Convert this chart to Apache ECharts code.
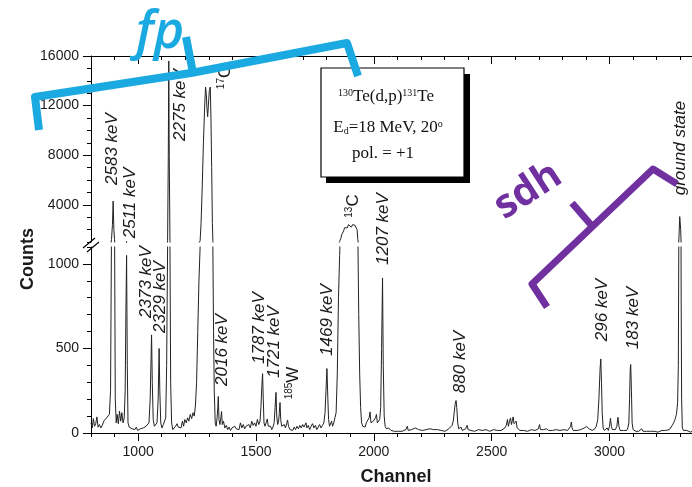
<!DOCTYPE html>
<html><head><meta charset="utf-8">
<script src="https://cdn.jsdelivr.net/npm/echarts@6/dist/echarts.min.js"></script>
<style>html,body{margin:0;padding:0;background:#fff}#c{width:692px;height:487px}</style>
</head><body><div id="c"></div>
<script>
// ---- data ----
const channels = [800,805,810,815,820,825,830,836,842,848,854,860,866,872,878,883,887,891,894,897,900,903,907,911,916,921,926,931,936,941,945,948,951,954,957,962,968,974,980,986,992,998,1004,1010,1016,1022,1028,1034,1040,1046,1051,1055,1057,1060,1064,1069,1074,1080,1085,1089,1092,1096,1101,1107,1112,1117,1121,1125,1128,1130,1132,1135,1138,1142,1147,1153,1159,1165,1170,1176,1182,1188,1193,1198,1204,1210,1215,1221,1227,1233,1238,1243,1248,1253,1258,1263,1267,1272,1277,1282,1286,1289,1292,1295,1298,1302,1306,1309,1312,1315,1317,1320,1323,1327,1331,1335,1338,1340,1343,1347,1351,1354,1357,1362,1368,1374,1380,1386,1392,1398,1404,1410,1416,1422,1428,1434,1440,1446,1452,1458,1464,1470,1476,1482,1488,1494,1500,1506,1512,1517,1521,1525,1528,1531,1534,1538,1543,1548,1552,1557,1562,1567,1572,1577,1581,1585,1588,1592,1596,1599,1602,1605,1609,1614,1620,1625,1630,1634,1638,1644,1650,1656,1662,1668,1674,1680,1686,1692,1698,1704,1709,1712,1716,1722,1728,1734,1740,1746,1752,1758,1764,1770,1776,1782,1788,1793,1797,1801,1805,1808,1812,1817,1821,1825,1830,1835,1840,1845,1850,1855,1860,1864,1868,1872,1876,1880,1884,1888,1892,1896,1900,1905,1910,1915,1920,1925,1929,1932,1936,1940,1944,1948,1953,1958,1963,1968,1972,1976,1980,1984,1988,1993,1998,2003,2007,2011,2015,2020,2025,2029,2033,2037,2040,2044,2048,2053,2058,2063,2068,2073,2080,2088,2096,2104,2112,2120,2128,2136,2142,2146,2152,2160,2168,2176,2182,2190,2198,2206,2214,2222,2230,2238,2246,2254,2262,2270,2278,2286,2294,2302,2310,2318,2326,2332,2337,2341,2345,2349,2352,2356,2360,2365,2370,2375,2382,2390,2396,2400,2406,2412,2420,2428,2436,2444,2452,2460,2468,2476,2484,2492,2500,2508,2516,2524,2532,2540,2548,2556,2562,2567,2571,2576,2580,2584,2588,2591,2595,2600,2604,2608,2614,2620,2628,2636,2644,2652,2660,2668,2676,2684,2692,2698,2703,2707,2714,2720,2726,2732,2737,2742,2750,2758,2766,2774,2782,2790,2798,2806,2814,2822,2830,2835,2838,2841,2846,2854,2862,2870,2878,2886,2893,2898,2903,2908,2913,2919,2926,2932,2938,2944,2950,2955,2960,2963,2966,2969,2973,2978,2984,2990,2995,3000,3004,3008,3012,3018,3025,3031,3036,3040,3045,3052,3060,3067,3073,3078,3082,3085,3088,3090,3093,3096,3100,3106,3112,3118,3124,3130,3136,3142,3150,3158,3166,3174,3182,3190,3198,3206,3214,3222,3230,3238,3246,3254,3260,3266,3272,3278,3284,3289,3292,3295,3298,3300,3302,3304,3306,3309,3314,3320,3328,3336,3344,3350];
const counts = [60,30,85,40,55,95,35,50,30,45,70,60,90,80,110,250,1200,2400,4300,2000,1200,200,60,110,55,130,70,120,60,90,250,700,1050,400,60,35,40,25,30,20,35,15,10,25,15,30,20,40,30,60,200,450,580,300,80,40,30,60,200,500,250,60,30,50,40,90,400,1100,8000,15600,8000,1100,300,60,20,30,40,55,35,45,30,70,40,80,60,90,70,110,85,120,100,160,300,600,900,1100,2500,5500,9000,11800,13500,13000,11800,11100,12000,13200,13500,11000,7000,2500,1100,600,250,60,40,90,150,216,80,50,90,127,50,70,30,45,20,35,15,30,20,40,25,35,20,60,30,50,25,40,30,50,30,70,45,60,40,80,50,70,150,280,351,200,60,40,50,83,40,30,40,20,35,60,150,240,100,50,70,120,180,80,40,30,50,30,55,77,40,20,30,15,35,20,40,25,45,30,50,35,40,60,30,45,20,40,55,30,45,20,35,50,30,45,60,120,250,381,200,80,40,50,70,40,60,90,120,350,800,1050,1300,1600,1700,1900,2150,2050,2300,2150,2400,2250,2350,2200,2400,2300,2350,2250,2000,1200,700,350,150,60,40,50,35,60,50,70,90,125,60,50,70,60,90,110,60,50,80,150,500,917,400,100,40,25,20,30,35,15,20,10,15,10,20,10,15,20,40,15,10,20,15,30,25,20,30,15,25,20,10,25,15,20,10,20,25,15,20,10,20,25,30,45,70,120,170,192,150,60,25,20,35,15,20,25,45,20,30,15,20,10,15,20,10,15,10,20,15,10,15,20,10,15,20,15,25,30,45,80,40,70,89,50,75,95,55,60,70,30,20,15,10,15,20,10,15,20,10,15,20,25,50,20,15,20,15,25,30,15,10,15,10,20,10,15,10,20,10,15,20,40,65,30,15,10,15,10,20,15,30,40,38,35,25,20,15,20,25,40,80,200,380,438,300,120,30,15,20,30,15,40,87,40,20,15,20,40,93,40,15,20,15,20,15,30,60,200,380,405,250,60,20,15,10,20,10,15,25,10,15,10,20,10,15,10,15,5,10,15,10,15,10,20,30,45,60,80,110,180,400,1500,3050,3050,2000,800,200,30,15,10,15,10,5,10];
const xTickLabels = [1000, 1500, 2000, 2500, 3000];
const upperTickLabels = [4000, 8000, 12000, 16000];
const lowerTickLabels = [0, 500, 1000];
const peakTexts = ['2583 keV','2511 keV','2373 keV','2329 keV','2275 keV','2016 keV','1787 keV','1721 keV','1469 keV','1207 keV','880 keV','296 keV','183 keV','ground state'];
const isoTexts = ['{s|17}{b|O}', '{s|185}{b|W}', '{s|13}{b|C}'];

// ---- chart ----
const FONT = "'Liberation Sans', Arial, Helvetica, sans-serif";
const SERIF = "'Liberation Serif', 'Times New Roman', serif";
const INK = '#1a1a1a';
const data = channels.map((c, i) => [c, counts[i]]);
const chart = echarts.init(document.getElementById('c'), null, {renderer: 'canvas'});
const plain = v => String(v);

function xAx(grid, pos, major) {
  const a = {
    gridIndex: grid, type: 'value', position: pos, min: 800, max: 3350,
    splitLine: {show: false},
    axisLine: {show: !major, onZero: false, lineStyle: {color: '#000', width: 1}},
    axisTick: {show: true, inside: pos === 'top', length: major ? 8 : 4, lineStyle: {color: '#000', width: 1}},
    axisLabel: {show: false}
  };
  if (major) {
    a.axisTick.customValues = xTickLabels;
    a.axisLabel = {show: pos === 'bottom', customValues: xTickLabels, formatter: plain, color: INK, fontFamily: FONT, fontSize: 14, margin: 12};
  } else {
    a.interval = 100;
  }
  return a;
}
function yAx(grid, min, max, minorInt, majors) {
  const a = {
    gridIndex: grid, type: 'value', position: 'left', min: min, max: max,
    splitLine: {show: false},
    axisLine: {show: !majors, onZero: false, lineStyle: {color: '#000', width: 1}},
    axisTick: {show: true, length: majors ? 8 : 4, lineStyle: {color: '#000', width: 1}},
    axisLabel: {show: false}
  };
  if (majors) {
    a.axisTick.customValues = majors;
    a.axisLabel = {show: true, customValues: majors, formatter: plain, color: INK, fontFamily: FONT, fontSize: 14, margin: 12};
  } else {
    a.interval = minorInt;
  }
  return a;
}

const vText = (t, x, y) => ({
  type: 'text', x: x, y: y, rotation: Math.PI / 2, z: 50,
  style: {text: t, fill: INK, font: 'italic 17px ' + FONT, align: 'center', verticalAlign: 'middle'}
});

// label layout (pixel positions of the annotation texts)
const peakPos = [[112,149],[130,203],[146,282],[160,297],[180,105],[222,350],[259,328],[274,342],[327,320],[383,229],[460,362],[602,310],[633,318],[680,148]];
const isoPos = [[225,77],[293,383],[353,206]];

const graphics = [];
peakTexts.forEach((t, i) => graphics.push(vText(t, peakPos[i][0], peakPos[i][1])));
isoTexts.forEach((t, i) => graphics.push({
  type: 'text', x: isoPos[i][0], y: isoPos[i][1], rotation: Math.PI / 2, z: 50,
  style: {text: t, align: 'center', verticalAlign: 'middle', fill: INK,
    rich: {s: {fontSize: 10, fontFamily: FONT, fill: INK, verticalAlign: 'top'},
           b: {fontSize: 17, fontFamily: FONT, fill: INK}}}
}));
// axis titles
graphics.push({type: 'text', x: 28, y: 259, rotation: Math.PI / 2, style: {text: 'Counts', fill: INK, font: 'bold 18px ' + FONT, align: 'center', verticalAlign: 'middle'}});
graphics.push({type: 'text', x: 396, y: 477, style: {text: 'Channel', fill: INK, font: 'bold 18px ' + FONT, align: 'center', verticalAlign: 'middle'}});
// axis break marks
graphics.push({type: 'line', shape: {x1: 83, y1: 248, x2: 95, y2: 238}, style: {stroke: '#000', lineWidth: 1.2}, z: 60});
graphics.push({type: 'line', shape: {x1: 87, y1: 252, x2: 99, y2: 242}, style: {stroke: '#000', lineWidth: 1.2}, z: 60});
// info box with shadow
graphics.push({type: 'rect', shape: {x: 326, y: 74, width: 144, height: 109}, style: {fill: '#000'}, z: 40});
graphics.push({type: 'rect', shape: {x: 321, y: 68, width: 143, height: 109}, style: {fill: '#fff', stroke: '#000', lineWidth: 1.2}, z: 41});
const boxRich = {
  n: {fontSize: 17, fontFamily: SERIF, fill: '#111'},
  s: {fontSize: 10, fontFamily: SERIF, fill: '#111', verticalAlign: 'top'},
  d: {fontSize: 10, fontFamily: SERIF, fill: '#111', verticalAlign: 'bottom'}
};
graphics.push({type: 'text', x: 386, y: 97, z: 42, style: {text: '{s|130}{n|Te(d,p)}{s|131}{n|Te}', align: 'center', verticalAlign: 'middle', rich: boxRich}});
graphics.push({type: 'text', x: 388, y: 128, z: 42, style: {text: '{n|E}{d|d}{n|=18 MeV, 20}{s|o}', align: 'center', verticalAlign: 'middle', rich: boxRich}});
graphics.push({type: 'text', x: 383, y: 154, z: 42, style: {text: '{n|pol. = +1}', align: 'center', verticalAlign: 'middle', rich: boxRich}});
// hand-drawn overlays
const BLUE = '#1ba9e1', PURPLE = '#7030a0';
graphics.push({type: 'polyline', z: 90, shape: {points: [[39,130],[35,97],[191,73],[347,43],[358,76]]}, style: {stroke: BLUE, lineWidth: 8, fill: null, lineJoin: 'round', lineCap: 'butt'}});
graphics.push({type: 'polyline', z: 90, shape: {points: [[186,37],[193,73]]}, style: {stroke: BLUE, lineWidth: 8, fill: null, lineCap: 'butt'}});
graphics.push({type: 'text', x: 160, y: 33, z: 91, style: {text: 'fp', fill: BLUE, font: 'italic 600 52px "Open Sans", sans-serif', align: 'center', verticalAlign: 'middle'}});
graphics.push({type: 'polyline', z: 90, shape: {points: [[547,307],[532,284],[653,169],[677,184]]}, style: {stroke: PURPLE, lineWidth: 7, fill: null, lineJoin: 'round', lineCap: 'butt'}});
graphics.push({type: 'polyline', z: 90, shape: {points: [[572,203],[592,226]]}, style: {stroke: PURPLE, lineWidth: 7, fill: null, lineCap: 'butt'}});
graphics.push({type: 'text', x: 528, y: 191, rotation: 33 * Math.PI / 180, z: 91, style: {text: 'sdh', fill: PURPLE, font: 'bold 40px "Open Sans", sans-serif', align: 'center', verticalAlign: 'middle'}});

const lineSeries = (xi, yi) => ({
  type: 'line', xAxisIndex: xi, yAxisIndex: yi, data: data, symbol: 'none', showSymbol: false,
  clip: true, silent: true, lineStyle: {color: '#222', width: 1}
});

const gridBase = {left: 91, right: 0, containLabel: false, outerBoundsMode: 'none'};
chart.setOption({
  animation: false,
  backgroundColor: '#fff',
  grid: [Object.assign({top: 56, height: 186}, gridBase), Object.assign({top: 247, height: 186}, gridBase)],
  xAxis: [xAx(0, 'top', false), xAx(0, 'top', true), xAx(1, 'bottom', false), xAx(1, 'bottom', true)],
  yAxis: [yAx(0, 1000, 16000, 1000, null), yAx(0, 1000, 16000, 1000, upperTickLabels),
          yAx(1, 0, 1100, 100, null), yAx(1, 0, 1100, 100, lowerTickLabels)],
  series: [lineSeries(0, 0), lineSeries(2, 2)],
  graphic: graphics
});
</script></body></html>
